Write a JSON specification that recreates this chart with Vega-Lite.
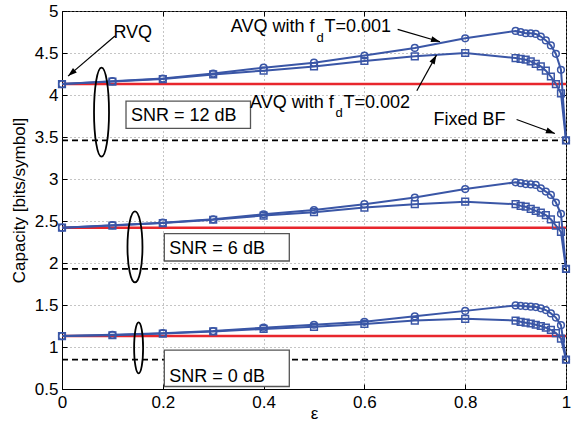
{
  "$schema": "https://vega.github.io/schema/vega-lite/v6.json",
  "width": 504,
  "height": 378,
  "autosize": {"type": "none"},
  "padding": {"left": 62, "top": 11, "right": 9, "bottom": 39},
  "background": "white",
  "config": {
    "view": {"stroke": "#000", "strokeWidth": 1},
    "axis": {
      "labelFont": "Liberation Sans", "labelFontSize": 17, "labelColor": "#000",
      "titleFont": "Liberation Sans", "titleFontSize": 17, "titleFontWeight": "normal", "titleColor": "#000",
      "domainColor": "#000", "tickColor": "#000", "tickSize": -5, "labelPadding": 10,
      "gridColor": "#8a8a8a", "gridDash": [1, 3], "gridWidth": 1
    },
    "text": {"font": "Liberation Sans", "color": "#000"}
  },
  "datasets": {
    "curves": [
      {"snr": 12, "s": "0.001", "x": 0, "y": 4.13}, {"snr": 12, "s": "0.001", "x": 0.1, "y": 4.165}, {"snr": 12, "s": "0.001", "x": 0.2, "y": 4.195}, {"snr": 12, "s": "0.001", "x": 0.3, "y": 4.255}, {"snr": 12, "s": "0.001", "x": 0.4, "y": 4.325}, {"snr": 12, "s": "0.001", "x": 0.5, "y": 4.385}, {"snr": 12, "s": "0.001", "x": 0.6, "y": 4.47}, {"snr": 12, "s": "0.001", "x": 0.7, "y": 4.56}, {"snr": 12, "s": "0.001", "x": 0.8, "y": 4.675}, {"snr": 12, "s": "0.001", "x": 0.9, "y": 4.763}, {"snr": 12, "s": "0.001", "x": 0.91, "y": 4.75}, {"snr": 12, "s": "0.001", "x": 0.92, "y": 4.735}, {"snr": 12, "s": "0.001", "x": 0.93, "y": 4.735}, {"snr": 12, "s": "0.001", "x": 0.94, "y": 4.727}, {"snr": 12, "s": "0.001", "x": 0.95, "y": 4.696}, {"snr": 12, "s": "0.001", "x": 0.96, "y": 4.65}, {"snr": 12, "s": "0.001", "x": 0.97, "y": 4.59}, {"snr": 12, "s": "0.001", "x": 0.98, "y": 4.49}, {"snr": 12, "s": "0.001", "x": 0.99, "y": 4.3}, {"snr": 12, "s": "0.001", "x": 1, "y": 3.46},
      {"snr": 12, "s": "0.002", "x": 0, "y": 4.13}, {"snr": 12, "s": "0.002", "x": 0.1, "y": 4.16}, {"snr": 12, "s": "0.002", "x": 0.2, "y": 4.19}, {"snr": 12, "s": "0.002", "x": 0.3, "y": 4.245}, {"snr": 12, "s": "0.002", "x": 0.4, "y": 4.29}, {"snr": 12, "s": "0.002", "x": 0.5, "y": 4.34}, {"snr": 12, "s": "0.002", "x": 0.6, "y": 4.405}, {"snr": 12, "s": "0.002", "x": 0.7, "y": 4.46}, {"snr": 12, "s": "0.002", "x": 0.8, "y": 4.5}, {"snr": 12, "s": "0.002", "x": 0.9, "y": 4.44}, {"snr": 12, "s": "0.002", "x": 0.91, "y": 4.43}, {"snr": 12, "s": "0.002", "x": 0.92, "y": 4.42}, {"snr": 12, "s": "0.002", "x": 0.93, "y": 4.4}, {"snr": 12, "s": "0.002", "x": 0.94, "y": 4.37}, {"snr": 12, "s": "0.002", "x": 0.95, "y": 4.34}, {"snr": 12, "s": "0.002", "x": 0.96, "y": 4.29}, {"snr": 12, "s": "0.002", "x": 0.97, "y": 4.22}, {"snr": 12, "s": "0.002", "x": 0.98, "y": 4.13}, {"snr": 12, "s": "0.002", "x": 0.99, "y": 4.02}, {"snr": 12, "s": "0.002", "x": 1, "y": 3.46},
      {"snr": 6, "s": "0.001", "x": 0, "y": 2.42}, {"snr": 6, "s": "0.001", "x": 0.1, "y": 2.45}, {"snr": 6, "s": "0.001", "x": 0.2, "y": 2.48}, {"snr": 6, "s": "0.001", "x": 0.3, "y": 2.52}, {"snr": 6, "s": "0.001", "x": 0.4, "y": 2.58}, {"snr": 6, "s": "0.001", "x": 0.5, "y": 2.63}, {"snr": 6, "s": "0.001", "x": 0.6, "y": 2.7}, {"snr": 6, "s": "0.001", "x": 0.7, "y": 2.78}, {"snr": 6, "s": "0.001", "x": 0.8, "y": 2.88}, {"snr": 6, "s": "0.001", "x": 0.9, "y": 2.96}, {"snr": 6, "s": "0.001", "x": 0.91, "y": 2.95}, {"snr": 6, "s": "0.001", "x": 0.92, "y": 2.94}, {"snr": 6, "s": "0.001", "x": 0.93, "y": 2.935}, {"snr": 6, "s": "0.001", "x": 0.94, "y": 2.93}, {"snr": 6, "s": "0.001", "x": 0.95, "y": 2.89}, {"snr": 6, "s": "0.001", "x": 0.96, "y": 2.85}, {"snr": 6, "s": "0.001", "x": 0.97, "y": 2.81}, {"snr": 6, "s": "0.001", "x": 0.98, "y": 2.72}, {"snr": 6, "s": "0.001", "x": 0.99, "y": 2.585}, {"snr": 6, "s": "0.001", "x": 1, "y": 1.93},
      {"snr": 6, "s": "0.002", "x": 0, "y": 2.42}, {"snr": 6, "s": "0.002", "x": 0.1, "y": 2.445}, {"snr": 6, "s": "0.002", "x": 0.2, "y": 2.475}, {"snr": 6, "s": "0.002", "x": 0.3, "y": 2.515}, {"snr": 6, "s": "0.002", "x": 0.4, "y": 2.565}, {"snr": 6, "s": "0.002", "x": 0.5, "y": 2.605}, {"snr": 6, "s": "0.002", "x": 0.6, "y": 2.66}, {"snr": 6, "s": "0.002", "x": 0.7, "y": 2.7}, {"snr": 6, "s": "0.002", "x": 0.8, "y": 2.73}, {"snr": 6, "s": "0.002", "x": 0.9, "y": 2.7}, {"snr": 6, "s": "0.002", "x": 0.91, "y": 2.68}, {"snr": 6, "s": "0.002", "x": 0.92, "y": 2.67}, {"snr": 6, "s": "0.002", "x": 0.93, "y": 2.645}, {"snr": 6, "s": "0.002", "x": 0.94, "y": 2.62}, {"snr": 6, "s": "0.002", "x": 0.95, "y": 2.6}, {"snr": 6, "s": "0.002", "x": 0.96, "y": 2.57}, {"snr": 6, "s": "0.002", "x": 0.97, "y": 2.52}, {"snr": 6, "s": "0.002", "x": 0.98, "y": 2.445}, {"snr": 6, "s": "0.002", "x": 0.99, "y": 2.37}, {"snr": 6, "s": "0.002", "x": 1, "y": 1.93},
      {"snr": 0, "s": "0.001", "x": 0, "y": 1.13}, {"snr": 0, "s": "0.001", "x": 0.1, "y": 1.145}, {"snr": 0, "s": "0.001", "x": 0.2, "y": 1.165}, {"snr": 0, "s": "0.001", "x": 0.3, "y": 1.19}, {"snr": 0, "s": "0.001", "x": 0.4, "y": 1.23}, {"snr": 0, "s": "0.001", "x": 0.5, "y": 1.265}, {"snr": 0, "s": "0.001", "x": 0.6, "y": 1.3}, {"snr": 0, "s": "0.001", "x": 0.7, "y": 1.365}, {"snr": 0, "s": "0.001", "x": 0.8, "y": 1.43}, {"snr": 0, "s": "0.001", "x": 0.9, "y": 1.495}, {"snr": 0, "s": "0.001", "x": 0.91, "y": 1.49}, {"snr": 0, "s": "0.001", "x": 0.92, "y": 1.485}, {"snr": 0, "s": "0.001", "x": 0.93, "y": 1.48}, {"snr": 0, "s": "0.001", "x": 0.94, "y": 1.475}, {"snr": 0, "s": "0.001", "x": 0.95, "y": 1.46}, {"snr": 0, "s": "0.001", "x": 0.96, "y": 1.44}, {"snr": 0, "s": "0.001", "x": 0.97, "y": 1.4}, {"snr": 0, "s": "0.001", "x": 0.98, "y": 1.35}, {"snr": 0, "s": "0.001", "x": 0.99, "y": 1.26}, {"snr": 0, "s": "0.001", "x": 1, "y": 0.85},
      {"snr": 0, "s": "0.002", "x": 0, "y": 1.13}, {"snr": 0, "s": "0.002", "x": 0.1, "y": 1.14}, {"snr": 0, "s": "0.002", "x": 0.2, "y": 1.16}, {"snr": 0, "s": "0.002", "x": 0.3, "y": 1.185}, {"snr": 0, "s": "0.002", "x": 0.4, "y": 1.215}, {"snr": 0, "s": "0.002", "x": 0.5, "y": 1.24}, {"snr": 0, "s": "0.002", "x": 0.6, "y": 1.275}, {"snr": 0, "s": "0.002", "x": 0.7, "y": 1.315}, {"snr": 0, "s": "0.002", "x": 0.8, "y": 1.335}, {"snr": 0, "s": "0.002", "x": 0.9, "y": 1.315}, {"snr": 0, "s": "0.002", "x": 0.91, "y": 1.3}, {"snr": 0, "s": "0.002", "x": 0.92, "y": 1.29}, {"snr": 0, "s": "0.002", "x": 0.93, "y": 1.28}, {"snr": 0, "s": "0.002", "x": 0.94, "y": 1.265}, {"snr": 0, "s": "0.002", "x": 0.95, "y": 1.25}, {"snr": 0, "s": "0.002", "x": 0.96, "y": 1.23}, {"snr": 0, "s": "0.002", "x": 0.97, "y": 1.205}, {"snr": 0, "s": "0.002", "x": 0.98, "y": 1.165}, {"snr": 0, "s": "0.002", "x": 0.99, "y": 1.1}, {"snr": 0, "s": "0.002", "x": 1, "y": 0.85}
    ],
    "refs": [
      {"snr": 12, "scheme": "RVQ", "x": 0, "y": 4.13}, {"snr": 12, "scheme": "RVQ", "x": 1, "y": 4.13},
      {"snr": 6, "scheme": "RVQ", "x": 0, "y": 2.42}, {"snr": 6, "scheme": "RVQ", "x": 1, "y": 2.42},
      {"snr": 0, "scheme": "RVQ", "x": 0, "y": 1.13}, {"snr": 0, "scheme": "RVQ", "x": 1, "y": 1.13},
      {"snr": 12, "scheme": "Fixed BF", "x": 0, "y": 3.46}, {"snr": 12, "scheme": "Fixed BF", "x": 1, "y": 3.46},
      {"snr": 6, "scheme": "Fixed BF", "x": 0, "y": 1.93}, {"snr": 6, "scheme": "Fixed BF", "x": 1, "y": 1.93},
      {"snr": 0, "scheme": "Fixed BF", "x": 0, "y": 0.85}, {"snr": 0, "scheme": "Fixed BF", "x": 1, "y": 0.85}
    ],
    "labels": [
      {"t": "RVQ", "k": "main", "x": 0.102, "y": 4.674},
      {"t": "AVQ with f", "k": "main", "x": 0.335, "y": 4.753},
      {"t": "d", "k": "sub", "x": 0.5049, "y": 4.634},
      {"t": "T=0.001", "k": "main", "x": 0.5208, "y": 4.753},
      {"t": "AVQ with f", "k": "main", "x": 0.373, "y": 3.84},
      {"t": "d", "k": "sub", "x": 0.5427, "y": 3.74},
      {"t": "T=0.002", "k": "main", "x": 0.5585, "y": 3.84},
      {"t": "Fixed BF", "k": "main", "x": 0.737, "y": 3.641},
      {"t": "SNR = 12 dB", "k": "main", "x": 0.137, "y": 3.693},
      {"t": "SNR = 6 dB", "k": "main", "x": 0.213, "y": 2.104},
      {"t": "SNR = 0 dB", "k": "main", "x": 0.213, "y": 0.586}
    ],
    "arrows": [
      {"id": 1, "x": 0.012, "y": 4.225, "x2": 0.105, "y2": 4.702},
      {"id": 2, "x": 0.75, "y": 4.634, "x2": 0.666, "y2": 4.782},
      {"id": 3, "x": 0.743, "y": 4.475, "x2": 0.704, "y2": 4.05},
      {"id": 4, "x": 0.978, "y": 3.542, "x2": 0.902, "y2": 3.709}
    ],
    "ellipses": [
      {"snr": 12, "x": 0.0784, "y": 3.796},
      {"snr": 6, "x": 0.1448, "y": 2.191},
      {"snr": 0, "x": 0.152, "y": 0.989}
    ],
    "boxes": [
      {"snr": 12, "x": 0.127, "x2": 0.374, "y": 3.927, "y2": 3.602},
      {"snr": 6, "x": 0.203, "x2": 0.451, "y": 2.35, "y2": 2.024},
      {"snr": 0, "x": 0.203, "x2": 0.451, "y": 0.963, "y2": 0.53}
    ]
  },
  "resolve": {"axis": {"x": "independent", "y": "independent"}},
  "layer": [
    {
      "encoding": {
        "x": {"field": "x", "type": "quantitative", "scale": {"domain": [0, 1], "nice": false, "zero": false},
              "axis": {"title": "ε", "values": [0, 0.2, 0.4, 0.6, 0.8, 1], "format": "~g", "labelFlush": false, "grid": true, "labelPadding": 10, "titlePadding": -5}},
        "y": {"field": "y", "type": "quantitative", "scale": {"domain": [0.5, 5], "nice": false, "zero": false},
              "axis": {"title": "Capacity [bits/symbol]", "values": [0.5, 1, 1.5, 2, 2.5, 3, 3.5, 4, 4.5, 5], "format": "~g", "grid": true, "labelPadding": 9, "titlePadding": 6}}
      },
      "layer": [
        {
          "data": {"name": "refs"},
          "transform": [{"filter": "datum.scheme == 'Fixed BF'"}],
          "mark": {"type": "line", "color": "#000", "strokeWidth": 1.8, "strokeDash": [6, 4]},
          "encoding": {"detail": {"field": "snr"}}
        },
        {
          "data": {"name": "refs"},
          "transform": [{"filter": "datum.scheme == 'RVQ'"}],
          "mark": {"type": "line", "color": "#e8262c", "strokeWidth": 2.5},
          "encoding": {"detail": {"field": "snr"}}
        },
        {
          "data": {"name": "curves"},
          "mark": {"type": "line", "color": "#3a56a6", "strokeWidth": 2},
          "encoding": {"detail": [{"field": "snr"}, {"field": "s"}]}
        },
        {
          "data": {"name": "curves"},
          "mark": {"type": "point", "filled": false, "color": "#3a56a6", "strokeWidth": 1.5, "size": 45, "opacity": 1},
          "encoding": {"shape": {"field": "s", "type": "nominal", "scale": {"domain": ["0.001", "0.002"], "range": ["circle", "square"]}, "legend": null}}
        },
        {
          "data": {"name": "boxes"},
          "mark": {"type": "rect", "fill": "white", "stroke": "#555", "strokeWidth": 1.3},
          "encoding": {"x2": {"field": "x2"}, "y2": {"field": "y2"}}
        },
        {
          "data": {"name": "labels"},
          "transform": [{"filter": "datum.k == 'main'"}],
          "mark": {"type": "text", "align": "left", "baseline": "alphabetic", "fontSize": 18},
          "encoding": {"text": {"field": "t"}}
        },
        {
          "data": {"name": "labels"},
          "transform": [{"filter": "datum.k == 'sub'"}],
          "mark": {"type": "text", "align": "left", "baseline": "alphabetic", "fontSize": 13},
          "encoding": {"text": {"field": "t"}}
        },
        {
          "data": {"name": "arrows"},
          "mark": {"type": "rule", "color": "#000", "strokeWidth": 1.2},
          "encoding": {"x2": {"field": "x2"}, "y2": {"field": "y2"}}
        },
        {
          "data": {"name": "arrows"},
          "transform": [{"filter": "datum.id == 1"}],
          "mark": {"type": "point", "shape": "M0,0L-0.33,1L0.33,1Z", "size": 324, "filled": true, "color": "#000", "opacity": 1, "angle": 229.6}
        },
        {
          "data": {"name": "arrows"},
          "transform": [{"filter": "datum.id == 2"}],
          "mark": {"type": "point", "shape": "M0,0L-0.33,1L0.33,1Z", "size": 324, "filled": true, "color": "#000", "opacity": 1, "angle": 106.3}
        },
        {
          "data": {"name": "arrows"},
          "transform": [{"filter": "datum.id == 3"}],
          "mark": {"type": "point", "shape": "M0,0L-0.33,1L0.33,1Z", "size": 324, "filled": true, "color": "#000", "opacity": 1, "angle": 29.3}
        },
        {
          "data": {"name": "arrows"},
          "transform": [{"filter": "datum.id == 4"}],
          "mark": {"type": "point", "shape": "M0,0L-0.33,1L0.33,1Z", "size": 324, "filled": true, "color": "#000", "opacity": 1, "angle": 110.1}
        },
        {
          "data": {"name": "ellipses"},
          "transform": [{"filter": "datum.snr == 12"}],
          "mark": {"type": "point", "shape": "M0,-1C0.0931,-1 0.1685,-0.5523 0.1685,0C0.1685,0.5523 0.0931,1 0,1C-0.0931,1 -0.1685,0.5523 -0.1685,0C-0.1685,-0.5523 -0.0931,-1 0,-1Z", "size": 7921, "filled": false, "color": "#000", "strokeWidth": 1.8, "opacity": 1}
        },
        {
          "data": {"name": "ellipses"},
          "transform": [{"filter": "datum.snr == 6"}],
          "mark": {"type": "point", "shape": "M0,-1C0.1165,-1 0.211,-0.5523 0.211,0C0.211,0.5523 0.1165,1 0,1C-0.1165,1 -0.211,0.5523 -0.211,0C-0.211,-0.5523 -0.1165,-1 0,-1Z", "size": 5041, "filled": false, "color": "#000", "strokeWidth": 1.8, "opacity": 1}
        },
        {
          "data": {"name": "ellipses"},
          "transform": [{"filter": "datum.snr == 0"}],
          "mark": {"type": "point", "shape": "M0,-1C0.0972,-1 0.176,-0.5523 0.176,0C0.176,0.5523 0.0972,1 0,1C-0.0972,1 -0.176,0.5523 -0.176,0C-0.176,-0.5523 -0.0972,-1 0,-1Z", "size": 2601, "filled": false, "color": "#000", "strokeWidth": 1.8, "opacity": 1}
        }
      ]
    },
    {
      "data": {"name": "refs"},
      "mark": {"type": "point", "opacity": 0},
      "encoding": {
        "x": {"field": "x", "type": "quantitative", "scale": {"domain": [0, 1], "nice": false, "zero": false},
              "axis": {"orient": "top", "title": null, "labels": false, "grid": false, "domain": false, "values": [0, 0.2, 0.4, 0.6, 0.8, 1]}},
        "y": {"field": "y", "type": "quantitative", "scale": {"domain": [0.5, 5], "nice": false, "zero": false},
              "axis": {"orient": "right", "title": null, "labels": false, "grid": false, "domain": false, "values": [0.5, 1, 1.5, 2, 2.5, 3, 3.5, 4, 4.5, 5]}}
      }
    }
  ]
}
